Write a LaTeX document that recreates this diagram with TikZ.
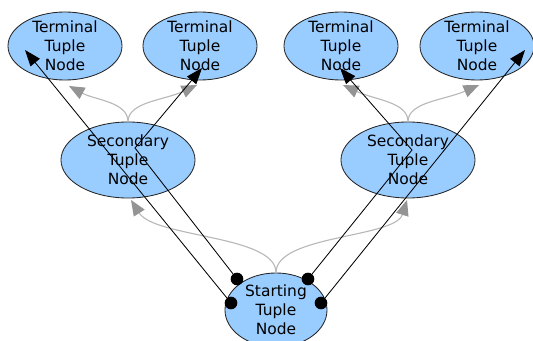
\documentclass[tikz,border=0pt]{standalone}
\usepackage{fontspec}
\setmainfont{DejaVu Sans}
\usepackage{tikz}
\usetikzlibrary{shapes.geometric}
\usetikzlibrary{arrows.meta}
\usepackage{xcolor}
\definecolor{tuplefill}{HTML}{99CCFF}

\begin{document}
\begin{tikzpicture}[x=0.025cm,y=-0.025cm,
  tuple/.style={ellipse,draw=black!85,fill=tuplefill,line width=0.6pt,inner sep=0pt},
  every label/.style={align=center,inner sep=0pt,font=\fontsize{11}{13.5}\selectfont},
  terminal/.style={tuple,minimum width=2.85cm,minimum height=1.7cm,label={center:Terminal\\Tuple\\Node}},
  secondary/.style={tuple,minimum width=3.35cm,minimum height=1.9cm,label={center:Secondary\\Tuple\\Node}},
  starting/.style={tuple,minimum width=2.55cm,minimum height=1.85cm,label={center:Starting\\Tuple\\Node}},
  flow/.style={draw=black!28,line width=0.8pt,-{Triangle[length=11pt,width=9pt,color=black!42]}},
  tuplepath/.style={draw,line width=0.6pt,-{Triangle[length=11.5pt,width=8.5pt]}},
  dot/.style={circle,fill=black,inner sep=0pt,minimum size=9pt}]
  \useasboundingbox (0,0) rectangle (533,341);

  \node[terminal] (t1) at (65,46) {};
  \node[terminal] (t2) at (200,46) {};
  \node[terminal] (t3) at (341,46) {};
  \node[terminal] (t4) at (477,46) {};
  \node[secondary] (s1) at (128,160) {};
  \node[secondary] (s2) at (408,160) {};
  \node[starting] (st) at (276,310) {};

  \coordinate (s1tip) at (131,200);
  \coordinate (s2tip) at (407,200);
  \coordinate (t1low) at (69,86);
  \coordinate (t2low) at (197,85);
  \coordinate (t3low) at (343,85);
  \coordinate (t4low) at (479,85);
  \draw[flow] (st.north) .. controls (276,235) and (155,238) .. (s1tip);
  \draw[flow] (st.north) .. controls (276,235) and (395,238) .. (s2tip);
  \draw[flow] (s1.north) .. controls (128,102) and (95,100) .. (t1low);
  \draw[flow] (s1.north) .. controls (128,102) and (165,100) .. (t2low);
  \draw[flow] (s2.north) .. controls (408,102) and (375,100) .. (t3low);
  \draw[flow] (s2.north) .. controls (408,102) and (445,100) .. (t4low);

  \node[dot] (d1) at (237,279) {};
  \node[dot] (d2) at (231,303) {};
  \node[dot] (d3) at (308,279) {};
  \node[dot] (d4) at (321,303) {};
  \coordinate (k1) at (135,148);
  \coordinate (k2) at (412,150);
  \coordinate (t1tip) at (25,50);
  \coordinate (t2tip) at (202,68);
  \coordinate (t3tip) at (340,68);
  \coordinate (t4tip) at (525,50);
  \draw[tuplepath] (d2) -- (t1tip);
  \draw[tuplepath] (d1) -- (k1) -- (t2tip);
  \draw[tuplepath] (d3) -- (k2) -- (t3tip);
  \draw[tuplepath] (d4) -- (t4tip);
\end{tikzpicture}
\end{document}
